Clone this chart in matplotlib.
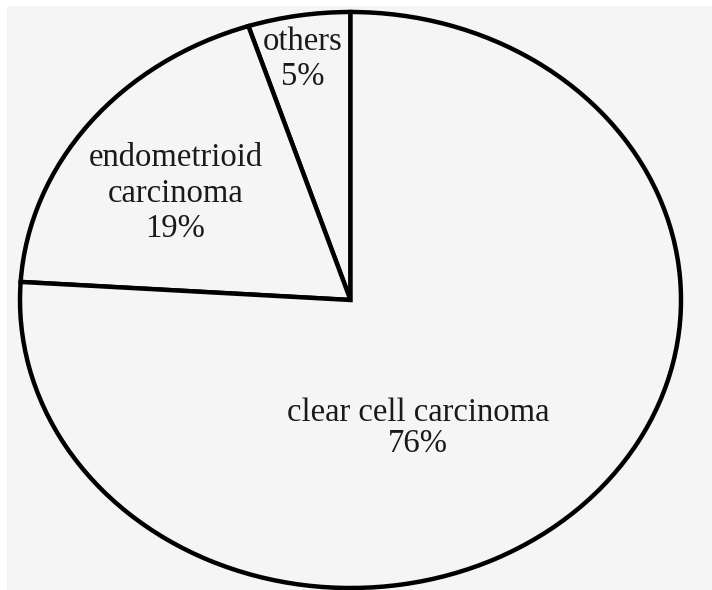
import matplotlib.pyplot as plt
from matplotlib.patches import Rectangle

# slice data, counter-clockwise from 12 o'clock
labels = ['others', 'endometrioid\ncarcinoma', 'clear cell carcinoma']
shares = [5, 19, 76]
# label anchor points inside the (stretched) pie, axes data units
label_x = [-0.145, -0.53, 0.205]
label_y = [0.835, 0.37, -0.445]
label_spacing = [1.2, 1.2, 1.05]

W, H = 712, 590
fig = plt.figure(figsize=(W / 100, H / 100), dpi=100)
fig.patch.set_facecolor('white')
# light grey panel behind the pie, with a thin white edge top/left
fig.patches.append(Rectangle((7 / W, 0), 1, (H - 6) / H, transform=fig.transFigure,
                             facecolor='#f5f5f5', edgecolor='none', zorder=-10))

# pie is an ellipse: left 20px, right 681px, top 12px, bottom 588px
ax = fig.add_axes([20 / W, 2 / H, 661 / W, 576 / H])
ax.pie(shares, startangle=90, counterclock=True, radius=1,
       colors=['#f5f5f5'] * len(shares),
       wedgeprops=dict(edgecolor='black', linewidth=3.2))
ax.set_aspect('auto')
ax.set_xlim(-1, 1)
ax.set_ylim(-1, 1)
ax.axis('off')

for lab, val, x, y, ls in zip(labels, shares, label_x, label_y, label_spacing):
    ax.text(x, y, f'{lab}\n{val}%', ha='center', va='center', fontsize=23.5,
            family='Liberation Serif', color='#1a1a1a', linespacing=ls,
            multialignment='center')

fig.savefig('out.png', dpi=100, facecolor=fig.get_facecolor())
